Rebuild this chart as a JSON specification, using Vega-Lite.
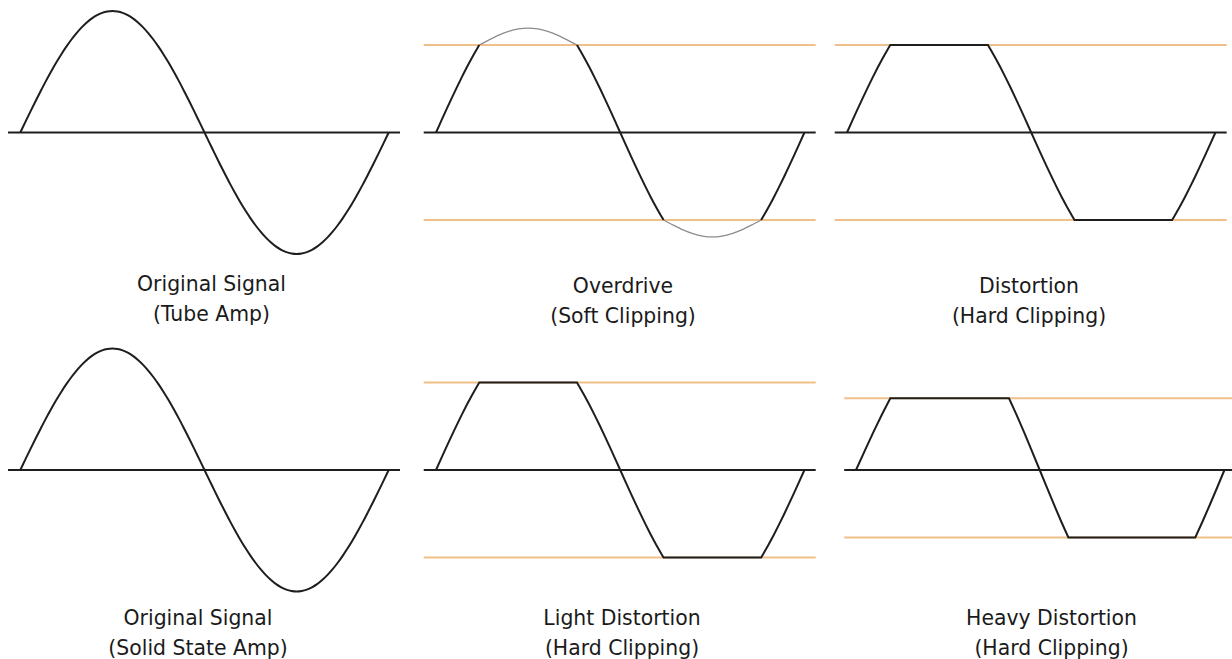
{
  "$schema": "https://vega.github.io/schema/vega-lite/v6.json",
  "padding": {"left": 7, "top": 5, "right": 0, "bottom": 0},
  "background": "white",
  "config": {
    "view": {"stroke": null},
    "title": {"font": "DejaVu Sans", "fontSize": 20.4, "fontWeight": "normal", "color": "#1a1a1a", "orient": "bottom", "anchor": "middle", "frame": "group", "lineHeight": 30}
  },
  "datasets": {
    "refs": [
      {"panel": "p1", "kind": "axis", "level": 0},
      {"panel": "p2", "kind": "clip", "level": 0.72},
      {"panel": "p2", "kind": "clip", "level": -0.72},
      {"panel": "p2", "kind": "axis", "level": 0},
      {"panel": "p3", "kind": "clip", "level": 0.72},
      {"panel": "p3", "kind": "clip", "level": -0.72},
      {"panel": "p3", "kind": "axis", "level": 0},
      {"panel": "p4", "kind": "axis", "level": 0},
      {"panel": "p5", "kind": "clip", "level": 0.72},
      {"panel": "p5", "kind": "clip", "level": -0.72},
      {"panel": "p5", "kind": "axis", "level": 0},
      {"panel": "p6", "kind": "clip", "level": 0.59},
      {"panel": "p6", "kind": "clip", "level": -0.555},
      {"panel": "p6", "kind": "axis", "level": 0}
    ],
    "sine": [
      {"x": 0, "y": 0}, {"x": 5, "y": 0.087}, {"x": 10, "y": 0.174}, {"x": 15, "y": 0.259}, {"x": 20, "y": 0.342}, {"x": 25, "y": 0.423}, {"x": 30, "y": 0.5}, {"x": 35, "y": 0.574}, {"x": 40, "y": 0.643}, {"x": 45, "y": 0.707}, {"x": 50, "y": 0.766}, {"x": 55, "y": 0.819}, {"x": 60, "y": 0.866}, {"x": 65, "y": 0.906}, {"x": 70, "y": 0.94}, {"x": 75, "y": 0.966}, {"x": 80, "y": 0.985}, {"x": 85, "y": 0.996}, {"x": 90, "y": 1},
      {"x": 95, "y": 0.996}, {"x": 100, "y": 0.985}, {"x": 105, "y": 0.966}, {"x": 110, "y": 0.94}, {"x": 115, "y": 0.906}, {"x": 120, "y": 0.866}, {"x": 125, "y": 0.819}, {"x": 130, "y": 0.766}, {"x": 135, "y": 0.707}, {"x": 140, "y": 0.643}, {"x": 145, "y": 0.574}, {"x": 150, "y": 0.5}, {"x": 155, "y": 0.423}, {"x": 160, "y": 0.342}, {"x": 165, "y": 0.259}, {"x": 170, "y": 0.174}, {"x": 175, "y": 0.087}, {"x": 180, "y": 0},
      {"x": 185, "y": -0.087}, {"x": 190, "y": -0.174}, {"x": 195, "y": -0.259}, {"x": 200, "y": -0.342}, {"x": 205, "y": -0.423}, {"x": 210, "y": -0.5}, {"x": 215, "y": -0.574}, {"x": 220, "y": -0.643}, {"x": 225, "y": -0.707}, {"x": 230, "y": -0.766}, {"x": 235, "y": -0.819}, {"x": 240, "y": -0.866}, {"x": 245, "y": -0.906}, {"x": 250, "y": -0.94}, {"x": 255, "y": -0.966}, {"x": 260, "y": -0.985}, {"x": 265, "y": -0.996}, {"x": 270, "y": -1},
      {"x": 275, "y": -0.996}, {"x": 280, "y": -0.985}, {"x": 285, "y": -0.966}, {"x": 290, "y": -0.94}, {"x": 295, "y": -0.906}, {"x": 300, "y": -0.866}, {"x": 305, "y": -0.819}, {"x": 310, "y": -0.766}, {"x": 315, "y": -0.707}, {"x": 320, "y": -0.643}, {"x": 325, "y": -0.574}, {"x": 330, "y": -0.5}, {"x": 335, "y": -0.423}, {"x": 340, "y": -0.342}, {"x": 345, "y": -0.259}, {"x": 350, "y": -0.174}, {"x": 355, "y": -0.087}, {"x": 360, "y": 0}
    ],
    "soft": [
      {"seg": "a", "kind": "main", "x": 0, "y": 0}, {"seg": "a", "kind": "main", "x": 5, "y": 0.093}, {"seg": "a", "kind": "main", "x": 10, "y": 0.186}, {"seg": "a", "kind": "main", "x": 15, "y": 0.277}, {"seg": "a", "kind": "main", "x": 20, "y": 0.366}, {"seg": "a", "kind": "main", "x": 25, "y": 0.452}, {"seg": "a", "kind": "main", "x": 30, "y": 0.535}, {"seg": "a", "kind": "main", "x": 35, "y": 0.614}, {"seg": "a", "kind": "main", "x": 40, "y": 0.688}, {"seg": "a", "kind": "main", "x": 42.3, "y": 0.72},
      {"seg": "d", "kind": "soft", "x": 42.3, "y": 0.72}, {"seg": "d", "kind": "soft", "x": 51.84, "y": 0.763}, {"seg": "d", "kind": "soft", "x": 61.38, "y": 0.802}, {"seg": "d", "kind": "soft", "x": 70.92, "y": 0.833}, {"seg": "d", "kind": "soft", "x": 80.46, "y": 0.853}, {"seg": "d", "kind": "soft", "x": 90, "y": 0.86}, {"seg": "d", "kind": "soft", "x": 99.54, "y": 0.853}, {"seg": "d", "kind": "soft", "x": 109.08, "y": 0.833}, {"seg": "d", "kind": "soft", "x": 118.62, "y": 0.802}, {"seg": "d", "kind": "soft", "x": 128.16, "y": 0.763}, {"seg": "d", "kind": "soft", "x": 137.7, "y": 0.72},
      {"seg": "b", "kind": "main", "x": 137.7, "y": 0.72}, {"seg": "b", "kind": "main", "x": 140, "y": 0.688}, {"seg": "b", "kind": "main", "x": 145, "y": 0.614}, {"seg": "b", "kind": "main", "x": 150, "y": 0.535}, {"seg": "b", "kind": "main", "x": 155, "y": 0.452}, {"seg": "b", "kind": "main", "x": 160, "y": 0.366}, {"seg": "b", "kind": "main", "x": 165, "y": 0.277}, {"seg": "b", "kind": "main", "x": 170, "y": 0.186}, {"seg": "b", "kind": "main", "x": 175, "y": 0.093}, {"seg": "b", "kind": "main", "x": 180, "y": 0}, {"seg": "b", "kind": "main", "x": 185, "y": -0.093}, {"seg": "b", "kind": "main", "x": 190, "y": -0.186}, {"seg": "b", "kind": "main", "x": 195, "y": -0.277}, {"seg": "b", "kind": "main", "x": 200, "y": -0.366}, {"seg": "b", "kind": "main", "x": 205, "y": -0.452}, {"seg": "b", "kind": "main", "x": 210, "y": -0.535}, {"seg": "b", "kind": "main", "x": 215, "y": -0.614}, {"seg": "b", "kind": "main", "x": 220, "y": -0.688}, {"seg": "b", "kind": "main", "x": 222.3, "y": -0.72},
      {"seg": "e", "kind": "soft", "x": 222.3, "y": -0.72}, {"seg": "e", "kind": "soft", "x": 231.84, "y": -0.763}, {"seg": "e", "kind": "soft", "x": 241.38, "y": -0.802}, {"seg": "e", "kind": "soft", "x": 250.92, "y": -0.833}, {"seg": "e", "kind": "soft", "x": 260.46, "y": -0.853}, {"seg": "e", "kind": "soft", "x": 270, "y": -0.86}, {"seg": "e", "kind": "soft", "x": 279.54, "y": -0.853}, {"seg": "e", "kind": "soft", "x": 289.08, "y": -0.833}, {"seg": "e", "kind": "soft", "x": 298.62, "y": -0.802}, {"seg": "e", "kind": "soft", "x": 308.16, "y": -0.763}, {"seg": "e", "kind": "soft", "x": 317.7, "y": -0.72},
      {"seg": "c", "kind": "main", "x": 317.7, "y": -0.72}, {"seg": "c", "kind": "main", "x": 320, "y": -0.688}, {"seg": "c", "kind": "main", "x": 325, "y": -0.614}, {"seg": "c", "kind": "main", "x": 330, "y": -0.535}, {"seg": "c", "kind": "main", "x": 335, "y": -0.452}, {"seg": "c", "kind": "main", "x": 340, "y": -0.366}, {"seg": "c", "kind": "main", "x": 345, "y": -0.277}, {"seg": "c", "kind": "main", "x": 350, "y": -0.186}, {"seg": "c", "kind": "main", "x": 355, "y": -0.093}, {"seg": "c", "kind": "main", "x": 360, "y": 0}
    ],
    "hard": [
      {"x": 0, "y": 0}, {"x": 5, "y": 0.093}, {"x": 10, "y": 0.186}, {"x": 15, "y": 0.277}, {"x": 20, "y": 0.366}, {"x": 25, "y": 0.452}, {"x": 30, "y": 0.535}, {"x": 35, "y": 0.614}, {"x": 40, "y": 0.688}, {"x": 42.3, "y": 0.72},
      {"x": 137.7, "y": 0.72}, {"x": 140, "y": 0.688}, {"x": 145, "y": 0.614}, {"x": 150, "y": 0.535}, {"x": 155, "y": 0.452}, {"x": 160, "y": 0.366}, {"x": 165, "y": 0.277}, {"x": 170, "y": 0.186}, {"x": 175, "y": 0.093}, {"x": 180, "y": 0},
      {"x": 185, "y": -0.093}, {"x": 190, "y": -0.186}, {"x": 195, "y": -0.277}, {"x": 200, "y": -0.366}, {"x": 205, "y": -0.452}, {"x": 210, "y": -0.535}, {"x": 215, "y": -0.614}, {"x": 220, "y": -0.688}, {"x": 222.3, "y": -0.72},
      {"x": 317.7, "y": -0.72}, {"x": 320, "y": -0.688}, {"x": 325, "y": -0.614}, {"x": 330, "y": -0.535}, {"x": 335, "y": -0.452}, {"x": 340, "y": -0.366}, {"x": 345, "y": -0.277}, {"x": 350, "y": -0.186}, {"x": 355, "y": -0.093}, {"x": 360, "y": 0}
    ],
    "heavy": [
      {"x": 0, "y": 0}, {"x": 8.4, "y": 0.156}, {"x": 16.75, "y": 0.308}, {"x": 25.1, "y": 0.453}, {"x": 33.5, "y": 0.59},
      {"x": 149.5, "y": 0.59}, {"x": 157, "y": 0.452}, {"x": 164.5, "y": 0.305}, {"x": 172, "y": 0.154}, {"x": 179.5, "y": 0},
      {"x": 186.5, "y": -0.144}, {"x": 193.5, "y": -0.286}, {"x": 200.5, "y": -0.424}, {"x": 207.5, "y": -0.555},
      {"x": 331.5, "y": -0.555}, {"x": 338.6, "y": -0.424}, {"x": 345.75, "y": -0.286}, {"x": 352.9, "y": -0.144}, {"x": 360, "y": 0}
    ]
  },
  "bounds": "flush",
  "spacing": 337.5,
  "vconcat": [
    {
      "bounds": "flush",
      "spacing": 20,
      "hconcat": [
        {
          "width": 393, "height": 255,
          "title": {"text": ["Original Signal", "(Tube Amp)"], "dx": 7, "offset": 15},
          "layer": [
            {
              "data": {"name": "refs"},
              "transform": [{"filter": "datum.panel === 'p1'"}],
              "mark": {"type": "rule", "strokeWidth": 2},
              "encoding": {
                "x": {"datum": -12, "type": "quantitative", "scale": {"domain": [-12, 372], "nice": false, "zero": false}, "axis": null},
                "x2": {"datum": 371},
                "y": {"field": "level", "type": "quantitative", "scale": {"domain": [-1.05, 1.05], "nice": false, "zero": false}, "axis": null},
                "color": {"field": "kind", "type": "nominal", "scale": {"domain": ["axis", "clip"], "range": ["#1e1e1e", "#f0c08a"]}, "legend": null}
              }
            },
            {
              "data": {"name": "sine"},
              "mark": {"type": "line", "color": "#1e1e1e", "strokeWidth": 2, "interpolate": "monotone"},
              "encoding": {
                "x": {"field": "x", "type": "quantitative", "scale": {"domain": [-12, 372], "nice": false, "zero": false}, "axis": null},
                "y": {"field": "y", "type": "quantitative", "scale": {"domain": [-1.05, 1.05], "nice": false, "zero": false}, "axis": null}
              }
            }
          ]
        },
        {
          "width": 393, "height": 255,
          "title": {"text": ["Overdrive", "(Soft Clipping)"], "dx": 5.5, "offset": 17},
          "layer": [
            {
              "data": {"name": "refs"},
              "transform": [{"filter": "datum.panel === 'p2'"}],
              "mark": {"type": "rule", "strokeWidth": 2},
              "encoding": {
                "x": {"datum": -12, "type": "quantitative", "scale": {"domain": [-14.66, 369.34], "nice": false, "zero": false}, "axis": null},
                "x2": {"datum": 371},
                "y": {"field": "level", "type": "quantitative", "scale": {"domain": [-1.05, 1.05], "nice": false, "zero": false}, "axis": null},
                "color": {"field": "kind", "type": "nominal", "scale": {"domain": ["axis", "clip"], "range": ["#1e1e1e", "#f0c08a"]}, "legend": null}
              }
            },
            {
              "data": {"name": "soft"},
              "transform": [{"filter": "datum.kind === 'soft'"}],
              "mark": {"type": "line", "color": "#8c8c8c", "strokeWidth": 1.2, "interpolate": "monotone"},
              "encoding": {
                "x": {"field": "x", "type": "quantitative", "scale": {"domain": [-14.66, 369.34], "nice": false, "zero": false}, "axis": null},
                "y": {"field": "y", "type": "quantitative", "scale": {"domain": [-1.05, 1.05], "nice": false, "zero": false}, "axis": null},
                "detail": {"field": "seg", "type": "nominal"}
              }
            },
            {
              "data": {"name": "soft"},
              "transform": [{"filter": "datum.kind === 'main'"}],
              "mark": {"type": "line", "color": "#1e1e1e", "strokeWidth": 2, "interpolate": "monotone"},
              "encoding": {
                "x": {"field": "x", "type": "quantitative", "scale": {"domain": [-14.66, 369.34], "nice": false, "zero": false}, "axis": null},
                "y": {"field": "y", "type": "quantitative", "scale": {"domain": [-1.05, 1.05], "nice": false, "zero": false}, "axis": null},
                "detail": {"field": "seg", "type": "nominal"}
              }
            }
          ]
        },
        {
          "width": 393, "height": 255,
          "title": {"text": ["Distortion", "(Hard Clipping)"], "dx": -1.5, "offset": 17},
          "layer": [
            {
              "data": {"name": "refs"},
              "transform": [{"filter": "datum.panel === 'p3'"}],
              "mark": {"type": "rule", "strokeWidth": 2},
              "encoding": {
                "x": {"datum": -12, "type": "quantitative", "scale": {"domain": [-12.7, 371.3], "nice": false, "zero": false}, "axis": null},
                "x2": {"datum": 371},
                "y": {"field": "level", "type": "quantitative", "scale": {"domain": [-1.05, 1.05], "nice": false, "zero": false}, "axis": null},
                "color": {"field": "kind", "type": "nominal", "scale": {"domain": ["axis", "clip"], "range": ["#1e1e1e", "#f0c08a"]}, "legend": null}
              }
            },
            {
              "data": {"name": "hard"},
              "mark": {"type": "line", "color": "#1e1e1e", "strokeWidth": 2},
              "encoding": {
                "x": {"field": "x", "type": "quantitative", "scale": {"domain": [-12.7, 371.3], "nice": false, "zero": false}, "axis": null},
                "y": {"field": "y", "type": "quantitative", "scale": {"domain": [-1.05, 1.05], "nice": false, "zero": false}, "axis": null}
              }
            }
          ]
        }
      ]
    },
    {
      "bounds": "flush",
      "spacing": 20,
      "hconcat": [
        {
          "width": 393, "height": 255,
          "title": {"text": ["Original Signal", "(Solid State Amp)"], "dx": -6.5, "offset": 11},
          "layer": [
            {
              "data": {"name": "refs"},
              "transform": [{"filter": "datum.panel === 'p4'"}],
              "mark": {"type": "rule", "strokeWidth": 2},
              "encoding": {
                "x": {"datum": -12, "type": "quantitative", "scale": {"domain": [-12, 372], "nice": false, "zero": false}, "axis": null},
                "x2": {"datum": 371},
                "y": {"field": "level", "type": "quantitative", "scale": {"domain": [-1.05, 1.05], "nice": false, "zero": false}, "axis": null},
                "color": {"field": "kind", "type": "nominal", "scale": {"domain": ["axis", "clip"], "range": ["#1e1e1e", "#f0c08a"]}, "legend": null}
              }
            },
            {
              "data": {"name": "sine"},
              "mark": {"type": "line", "color": "#1e1e1e", "strokeWidth": 2, "interpolate": "monotone"},
              "encoding": {
                "x": {"field": "x", "type": "quantitative", "scale": {"domain": [-12, 372], "nice": false, "zero": false}, "axis": null},
                "y": {"field": "y", "type": "quantitative", "scale": {"domain": [-1.05, 1.05], "nice": false, "zero": false}, "axis": null}
              }
            }
          ]
        },
        {
          "width": 393, "height": 255,
          "title": {"text": ["Light Distortion", "(Hard Clipping)"], "dx": 4.5, "offset": 11},
          "layer": [
            {
              "data": {"name": "refs"},
              "transform": [{"filter": "datum.panel === 'p5'"}],
              "mark": {"type": "rule", "strokeWidth": 2},
              "encoding": {
                "x": {"datum": -12, "type": "quantitative", "scale": {"domain": [-14.66, 369.34], "nice": false, "zero": false}, "axis": null},
                "x2": {"datum": 371},
                "y": {"field": "level", "type": "quantitative", "scale": {"domain": [-1.05, 1.05], "nice": false, "zero": false}, "axis": null},
                "color": {"field": "kind", "type": "nominal", "scale": {"domain": ["axis", "clip"], "range": ["#1e1e1e", "#f0c08a"]}, "legend": null}
              }
            },
            {
              "data": {"name": "hard"},
              "mark": {"type": "line", "color": "#1e1e1e", "strokeWidth": 2},
              "encoding": {
                "x": {"field": "x", "type": "quantitative", "scale": {"domain": [-14.66, 369.34], "nice": false, "zero": false}, "axis": null},
                "y": {"field": "y", "type": "quantitative", "scale": {"domain": [-1.05, 1.05], "nice": false, "zero": false}, "axis": null}
              }
            }
          ]
        },
        {
          "width": 393, "height": 255,
          "title": {"text": ["Heavy Distortion", "(Hard Clipping)"], "dx": 21, "offset": 11},
          "layer": [
            {
              "data": {"name": "refs"},
              "transform": [{"filter": "datum.panel === 'p6'"}],
              "mark": {"type": "rule", "strokeWidth": 2},
              "encoding": {
                "x": {"datum": -11.5, "type": "quantitative", "scale": {"domain": [-21.5, 362.5], "nice": false, "zero": false}, "axis": null},
                "x2": {"datum": 368},
                "y": {"field": "level", "type": "quantitative", "scale": {"domain": [-1.05, 1.05], "nice": false, "zero": false}, "axis": null},
                "color": {"field": "kind", "type": "nominal", "scale": {"domain": ["axis", "clip"], "range": ["#1e1e1e", "#f0c08a"]}, "legend": null}
              }
            },
            {
              "data": {"name": "heavy"},
              "mark": {"type": "line", "color": "#1e1e1e", "strokeWidth": 2},
              "encoding": {
                "x": {"field": "x", "type": "quantitative", "scale": {"domain": [-21.5, 362.5], "nice": false, "zero": false}, "axis": null},
                "y": {"field": "y", "type": "quantitative", "scale": {"domain": [-1.05, 1.05], "nice": false, "zero": false}, "axis": null}
              }
            }
          ]
        }
      ]
    }
  ]
}
